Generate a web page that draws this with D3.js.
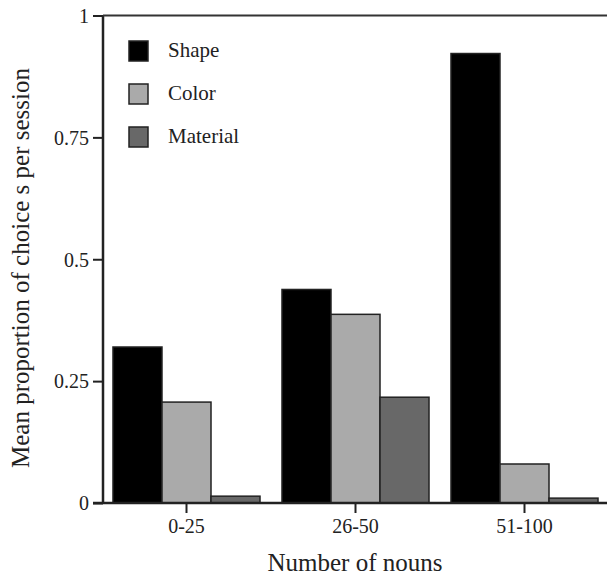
<!DOCTYPE html>
<html>
<head>
<meta charset="utf-8">
<script src="https://cdn.jsdelivr.net/npm/d3@7"></script>
<style>
  body { margin: 0; background: #fff; }
</style>
</head>
<body>
<div id="canvas"></div>
<script>
// data
var categories = ['0-25', '26-50', '51-100'];
var seriesNames = ['Shape', 'Color', 'Material'];
var shapeValues = [0.32, 0.438, 0.922];
var colorValues = [0.207, 0.387, 0.08];
var materialValues = [0.014, 0.217, 0.01];
var yTicks = [0, 0.25, 0.5, 0.75, 1];
var yTickLabels = ['0', '0.25', '0.5', '0.75', '1'];

var fills = {Shape: '#000000', Color: '#aaaaaa', Material: '#686868'};
var valuesBySeries = {Shape: shapeValues, Color: colorValues, Material: materialValues};

var serif = '"Liberation Serif", "DejaVu Serif", serif';
var outerWidth = 607, outerHeight = 577;
var m = {t: 15.5, l: 103, b: 74};
var y0 = outerHeight - m.b; // 503

var svg = d3.select('#canvas')
    .append('svg')
    .attr('width', outerWidth)
    .attr('height', outerHeight)
    .attr('font-family', serif);

var x = d3.scaleBand()
    .domain(categories)
    .range([102, 609])
    .paddingInner(0.13)
    .paddingOuter(0.065);

var xSub = d3.scaleBand()
    .domain(seriesNames)
    .range([0, x.bandwidth()]);

var y = d3.scaleLinear()
    .domain([0, 1])
    .range([y0, m.t]);

// flatten to one record per bar
var bars = [];
categories.forEach(function(c, i){
    seriesNames.forEach(function(s){
        bars.push({cat: c, series: s, value: valuesBySeries[s][i]});
    });
});

svg.append('g')
    .selectAll('rect')
    .data(bars)
    .enter()
    .append('rect')
    .attr('x', function(d){ return x(d.cat) + xSub(d.series); })
    .attr('y', function(d){ return y(d.value); })
    .attr('width', xSub.bandwidth())
    .attr('height', function(d){ return y0 - y(d.value); })
    .style('fill', function(d){ return fills[d.series]; })
    .style('stroke', '#222')
    .style('stroke-width', 1.5);

// y axis
var yAxis = d3.axisLeft(y)
    .tickValues(yTicks)
    .tickFormat(function(d, i){ return yTickLabels[i]; })
    .tickSize(10)
    .tickPadding(4);

var gy = svg.append('g')
    .attr('transform', 'translate(' + m.l + ',0)')
    .call(yAxis);
gy.select('.domain').remove();
gy.selectAll('line').style('stroke', '#222').style('stroke-width', 2);
gy.selectAll('text')
    .style('font-family', serif)
    .style('font-size', '20px')
    .style('fill', '#222')
    .attr('dy', '0.34em');

svg.append('line')
    .attr('x1', m.l).attr('x2', m.l)
    .attr('y1', m.t).attr('y2', y0)
    .style('stroke', '#222').style('stroke-width', 2.5);

// top frame line
svg.append('line')
    .attr('x1', m.l).attr('x2', outerWidth)
    .attr('y1', y(1)).attr('y2', y(1))
    .style('stroke', '#333').style('stroke-width', 2);

// x axis
var xAxis = d3.axisBottom(x)
    .tickSize(10)
    .tickPadding(6);

var gx = svg.append('g')
    .attr('transform', 'translate(0,' + y0 + ')')
    .call(xAxis);
gx.select('.domain').remove();
gx.selectAll('line').style('stroke', '#222').style('stroke-width', 2);
gx.selectAll('text')
    .style('font-family', serif)
    .style('font-size', '20px')
    .style('fill', '#222');

svg.append('line')
    .attr('x1', 93).attr('x2', outerWidth)
    .attr('y1', y0).attr('y2', y0)
    .style('stroke', '#222').style('stroke-width', 2.5);

// axis titles
svg.append('text')
    .attr('x', 355)
    .attr('y', 571)
    .attr('text-anchor', 'middle')
    .style('font-family', serif)
    .style('font-size', '25px')
    .style('fill', '#222')
    .text('Number of nouns');

svg.append('text')
    .attr('transform', 'translate(29,268) rotate(-90)')
    .attr('text-anchor', 'middle')
    .style('font-family', serif)
    .style('font-size', '25px')
    .style('fill', '#222')
    .text('Mean proportion of choice s per session');

// legend
var legend = svg.append('g')
    .selectAll('g')
    .data(seriesNames)
    .enter()
    .append('g')
    .attr('transform', function(d, i){ return 'translate(129,' + (41 + i * 43) + ')'; });

legend.append('rect')
    .attr('width', 19)
    .attr('height', 20)
    .style('fill', function(d){ return fills[d]; })
    .style('stroke', '#222')
    .style('stroke-width', 1.5);

legend.append('text')
    .attr('x', 39)
    .attr('y', 16)
    .style('font-family', serif)
    .style('font-size', '21px')
    .style('fill', '#222')
    .text(function(d){ return d; });
</script>
</body>
</html>
